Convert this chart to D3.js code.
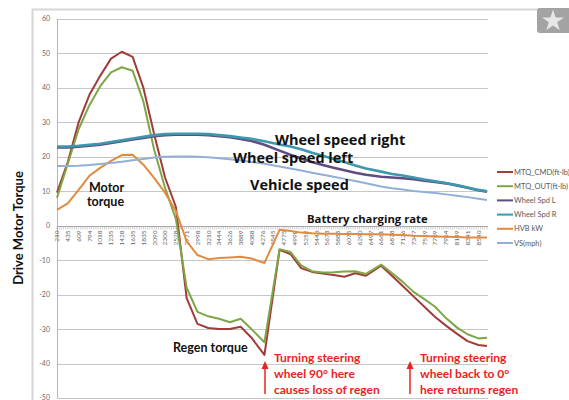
<!DOCTYPE html>
<html>
<head>
<meta charset="utf-8">
<script src="https://cdn.jsdelivr.net/npm/d3@7"></script>
<style>
  body { margin: 0; background: #fff; }
  svg { display: block; font-family: Lato, "Liberation Sans", sans-serif; }
</style>
</head>
<body>
<svg width="569" height="400"></svg>
<script>
// Category labels (every 5th sample of 200)
const tickLabels = ["210","435","609","794","1018","1235","1428","1635","1835","2090","2300","2528","2771","2998","3210","3444","3626","3889","4088","4276","4545","4775","4998","5252","5440","5678","5885","6075","6290","6497","6661","6878","7126","7347","7529","7739","7964","8149","8341","8540"];
const nCats = 200;

const sampleIdx = [0,5,10,15,20,25,30,35,40,45,50,55,60,65,70,75,80,85,90,96,103,108,113,118,123,128,133,138,143,150,155,160,165,170,175,180,185,190,195,199];

const mtqCmd = [9.6,18.5,30,38,43.5,48.5,50.5,49,40,26.5,14,5.5,-21,-28.5,-29.7,-30,-30,-29.3,-32.5,-37.5,-7,-8.2,-12.3,-13.4,-13.9,-14.3,-14.8,-13.8,-14.5,-11.6,-14.5,-17.5,-20.5,-23.5,-26.5,-29,-31.3,-33.5,-34.6,-34.9];
const mtqOut = [8.1,18,28,35,40.5,44.5,46,45,36,22,11,2,-18,-25,-26.3,-27,-28,-27,-30,-33.8,-6.8,-7.6,-11.5,-13.2,-13.6,-13.5,-13.3,-13.2,-14,-11.3,-13.7,-16.3,-19.2,-21.3,-23.5,-26.8,-29.5,-31.5,-32.7,-32.5];
const spdL = [22.7,22.7,22.9,23.2,23.5,24,24.5,25,25.5,26,26.3,26.4,26.4,26.4,26.3,26,25.7,25.2,24.6,23.5,21.8,20.6,19.5,18.5,17.6,16.8,16.1,15.4,14.8,14.2,14,13.8,13.5,13.1,12.7,12.3,11.7,11,10.3,9.9];
const spdR = [23,23,23.2,23.5,23.8,24.3,24.8,25.3,25.8,26.3,26.6,26.7,26.7,26.7,26.6,26.3,26,25.6,25.2,24.5,23.6,23,22.2,21.2,20.3,19.4,18.5,17.5,16.6,15.7,15,14.6,14,13.4,12.9,12.4,11.8,11.1,10.4,10];
const hvbKw = [4.6,6.5,10.4,14.5,16.8,18.8,20.5,20.6,17.7,13.8,9.6,4.3,-4.5,-8.5,-9.7,-9.4,-9.2,-9,-9.5,-10.8,-1.2,-1.5,-2,-2.2,-2.3,-2.3,-2.4,-2.4,-2.5,-2.5,-2.6,-2.7,-2.9,-3,-3.1,-3.2,-3.3,-3.4,-3.4,-3.4];
const vsMph = [17.3,17.3,17.4,17.6,17.9,18.2,18.6,19,19.4,19.8,20,20.1,20.1,20,19.9,19.6,19.3,18.9,18.5,18,17.2,16.6,16,15.4,14.8,14.2,13.6,13,12.3,11.4,10.9,10.5,10.1,9.8,9.5,9.1,8.7,8.3,7.8,7.5];

const seriesNames = ["MTQ_CMD(ft-lb)", "MTQ_OUT(ft-lb)", "Wheel Spd L", "Wheel Spd R", "HVB kW", "VS(mph)"];
const seriesValues = [mtqCmd, mtqOut, spdL, spdR, hvbKw, vsMph];
const seriesColors = ["#a03c3a", "#7fa646", "#5f4c80", "#3d98ad", "#e48a3e", "#92b0d6"];
const seriesWidths = [2, 2, 2.6, 2.6, 2, 2];

const svg = d3.select("svg");
const plot = { left: 57, right: 487, top: 19, bottom: 398 };

// Scales
const xScale = d3.scaleLinear().domain([0, nCats - 1]).range([plot.left, plot.right]);
const yScale = d3.scaleLinear().domain([-50, 60]).range([plot.bottom, plot.top]);

svg.append("rect").attr("width", 569).attr("height", 400).attr("fill", "#fff");

// Outer frame
svg.append("line").attr("x1", 32).attr("x2", 569).attr("y1", 9.5).attr("y2", 9.5)
    .attr("stroke", "#d6d6d6").attr("stroke-width", 2);
svg.append("line").attr("x1", 32.5).attr("x2", 32.5).attr("y1", 9).attr("y2", 400)
    .attr("stroke", "#d6d6d6").attr("stroke-width", 2);

// Gridlines + y labels
const yTicks = yScale.ticks(11);
svg.append("g").selectAll("line").data(yTicks.filter(d => d !== 0)).join("line")
    .attr("x1", plot.left).attr("x2", plot.right + 1)
    .attr("y1", d => Math.round(yScale(d)) + 0.5).attr("y2", d => Math.round(yScale(d)) + 0.5)
    .attr("stroke", "#c6c6c6");
svg.append("g").selectAll("text").data(yTicks).join("text")
    .attr("x", 50).attr("y", d => yScale(d)).attr("dy", "0.35em")
    .attr("text-anchor", "end").attr("font-size", 7).attr("fill", "#6a6a6a")
    .text(d => d);

// Y axis line
svg.append("line").attr("x1", plot.left + 0.5).attr("x2", plot.left + 0.5)
    .attr("y1", plot.top).attr("y2", plot.bottom).attr("stroke", "#b5b5b5");

// X axis at zero with a tick per category
const y0 = Math.round(yScale(0)) + 0.5;
svg.append("line").attr("x1", plot.left).attr("x2", plot.right + 1)
    .attr("y1", y0).attr("y2", y0).attr("stroke", "#a8a8a8");
svg.append("g").selectAll("line").data(d3.range(nCats)).join("line")
    .attr("x1", d => xScale(d)).attr("x2", d => xScale(d))
    .attr("y1", y0).attr("y2", y0 + 3)
    .attr("stroke", "#b0b0b0").attr("stroke-width", 0.6);
svg.append("g").selectAll("text").data(tickLabels).join("text")
    .attr("transform", (d, i) => `translate(${xScale(i * 5)},${y0 + 4}) rotate(-90)`)
    .attr("dy", "0.35em")
    .attr("text-anchor", "end").attr("font-size", 6.5).attr("fill", "#666")
    .text(d => d);

// Series lines
const line = d3.line()
    .x((d, i) => xScale(sampleIdx[i]))
    .y(d => yScale(d));

svg.append("g").selectAll("path").data(seriesValues).join("path")
    .attr("d", d => line(d))
    .attr("fill", "none")
    .attr("stroke", (d, i) => seriesColors[i])
    .attr("stroke-width", (d, i) => seriesWidths[i])
    .attr("stroke-linejoin", "round");

// Legend
const legend = svg.append("g").selectAll("g").data(seriesNames).join("g")
    .attr("transform", (d, i) => `translate(497,${172 + i * 14.2})`);
legend.append("line").attr("x1", 0).attr("x2", 16)
    .attr("stroke", (d, i) => seriesColors[i]).attr("stroke-width", 2);
legend.append("text").attr("x", 17).attr("dy", "0.35em")
    .attr("font-size", 7.5).attr("fill", "#595959").text(d => d);

// Axis title
svg.append("text")
    .attr("transform", "translate(23,228) rotate(-90)")
    .attr("text-anchor", "middle")
    .attr("font-size", 13).attr("font-weight", "bold").attr("fill", "#111")
    .text("Drive Motor Torque");

// Black annotations
const notes = svg.append("g").attr("font-weight", "bold").attr("fill", "#111").attr("font-size", 12.5);
const wide = notes.append("g").attr("font-family", "'Open Sans', sans-serif").attr("font-size", 14.5);
wide.append("text").attr("x", 275).attr("y", 145).text("Wheel speed right");
wide.append("text").attr("x", 233).attr("y", 163).text("Wheel speed left");
wide.append("text").attr("x", 250).attr("y", 190).text("Vehicle speed");
wide.append("text").attr("x", 307).attr("y", 223).attr("font-size", 11.3).text("Battery charging rate");
notes.append("text").attr("x", 89).attr("y", 192).text("Motor");
notes.append("text").attr("x", 87).attr("y", 206).text("torque");
notes.append("text").attr("x", 173).attr("y", 352).text("Regen torque");

// Red annotations with arrows
const red = "#e8231f";
const redNotes = svg.append("g").attr("font-weight", "bold").attr("fill", red).attr("font-size", 12);
[["Turning steering", "wheel 90° here", "causes loss of regen"], ["Turning steering", "wheel back to 0°", "here returns regen"]]
    .forEach((lines, k) => {
        const x = k === 0 ? 274 : 420;
        lines.forEach((t, j) => {
            redNotes.append("text").attr("x", x).attr("y", 362 + j * 16).text(t);
        });
        const ax = k === 0 ? 265 : 410;
        svg.append("line").attr("x1", ax).attr("x2", ax).attr("y1", 394).attr("y2", 368)
            .attr("stroke", red).attr("stroke-width", 1.5);
        svg.append("path").attr("d", `M${ax - 3.5},369 L${ax},361 L${ax + 3.5},369 Z`).attr("fill", red);
    });

// Star badge
svg.append("rect").attr("x", 537).attr("y", 8).attr("width", 36).attr("height", 25).attr("rx", 3)
    .attr("fill", "#a3a3a3");
svg.append("path").attr("d", d3.symbol().type(d3.symbolStar).size(150)())
    .attr("transform", "translate(553,21)").attr("fill", "#e6e6e6");
</script>
</body>
</html>
